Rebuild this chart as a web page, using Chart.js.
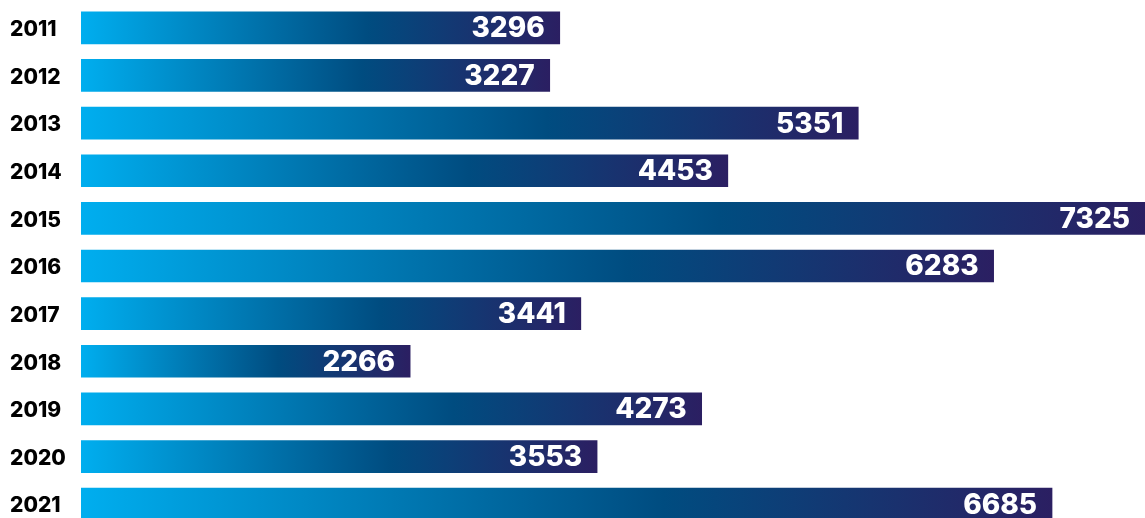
<!DOCTYPE html>
<html>
<head>
<meta charset="utf-8">
<script src="https://cdn.jsdelivr.net/npm/chart.js@4"></script>
<style>
  html, body { margin: 0; padding: 0; background: #fff; overflow: hidden; }
</style>
</head>
<body>
<canvas id="bar-chart" width="1145" height="532"></canvas>
<script>
// Tahun dan nilai
const years = ["2011", "2012", "2013", "2014", "2015", "2016", "2017", "2018", "2019", "2020", "2021"];
const values = [3296, 3227, 5351, 4453, 7325, 6283, 3441, 2266, 4273, 3553, 6685];

// gradient per bar, dari kiri ke ujung bar
function barGradient(ctx) {
  const chart = ctx.chart;
  if (!chart.chartArea || ctx.type !== "data") return "#0077b3";
  const xs = chart.scales.x;
  const x0 = xs.getPixelForValue(0);
  const x1 = xs.getPixelForValue(values[ctx.dataIndex]);
  const g = chart.ctx.createLinearGradient(x0, 0, x1, 0);
  g.addColorStop(0, "#00aeef");
  g.addColorStop(0.6, "#004c80");
  g.addColorStop(1, "#2b1f62");
  return g;
}

// label angka putih di dalam bar
const valueLabels = {
  id: "valueLabels",
  afterDatasetsDraw(chart) {
    const c = chart.ctx;
    const meta = chart.getDatasetMeta(0);
    c.save();
    c.fillStyle = "#ffffff";
    c.font = "800 28px Inter";
    c.textAlign = "right";
    c.textBaseline = "middle";
    meta.data.forEach((bar, i) => {
      c.fillText(values[i], bar.x - 15, bar.y + 1);
    });
    c.restore();
  }
};

new Chart(document.getElementById("bar-chart"), {
  type: "bar",
  data: {
    labels: years,
    datasets: [{
      data: values,
      backgroundColor: barGradient,
      barThickness: 32,
      borderWidth: 0
    }]
  },
  options: {
    indexAxis: "y",
    responsive: false,
    animation: false,
    layout: { padding: { left: 10, right: 0, top: 4, bottom: 4 } },
    plugins: {
      legend: { display: false },
      tooltip: { enabled: false }
    },
    scales: {
      x: {
        display: false,
        min: 0,
        max: 7325
      },
      y: {
        grid: { display: false },
        border: { display: false },
        afterFit(scale) {
          scale.width = 71;
          scale.paddingTop = 0;
          scale.paddingBottom = 0;
        },
        ticks: {
          crossAlign: "far",
          color: "#000000",
          padding: 0,
          labelOffset: 2,
          font: { family: "Inter", weight: "800", size: 21 }
        }
      }
    }
  },
  plugins: [valueLabels]
});
</script>
</body>
</html>
